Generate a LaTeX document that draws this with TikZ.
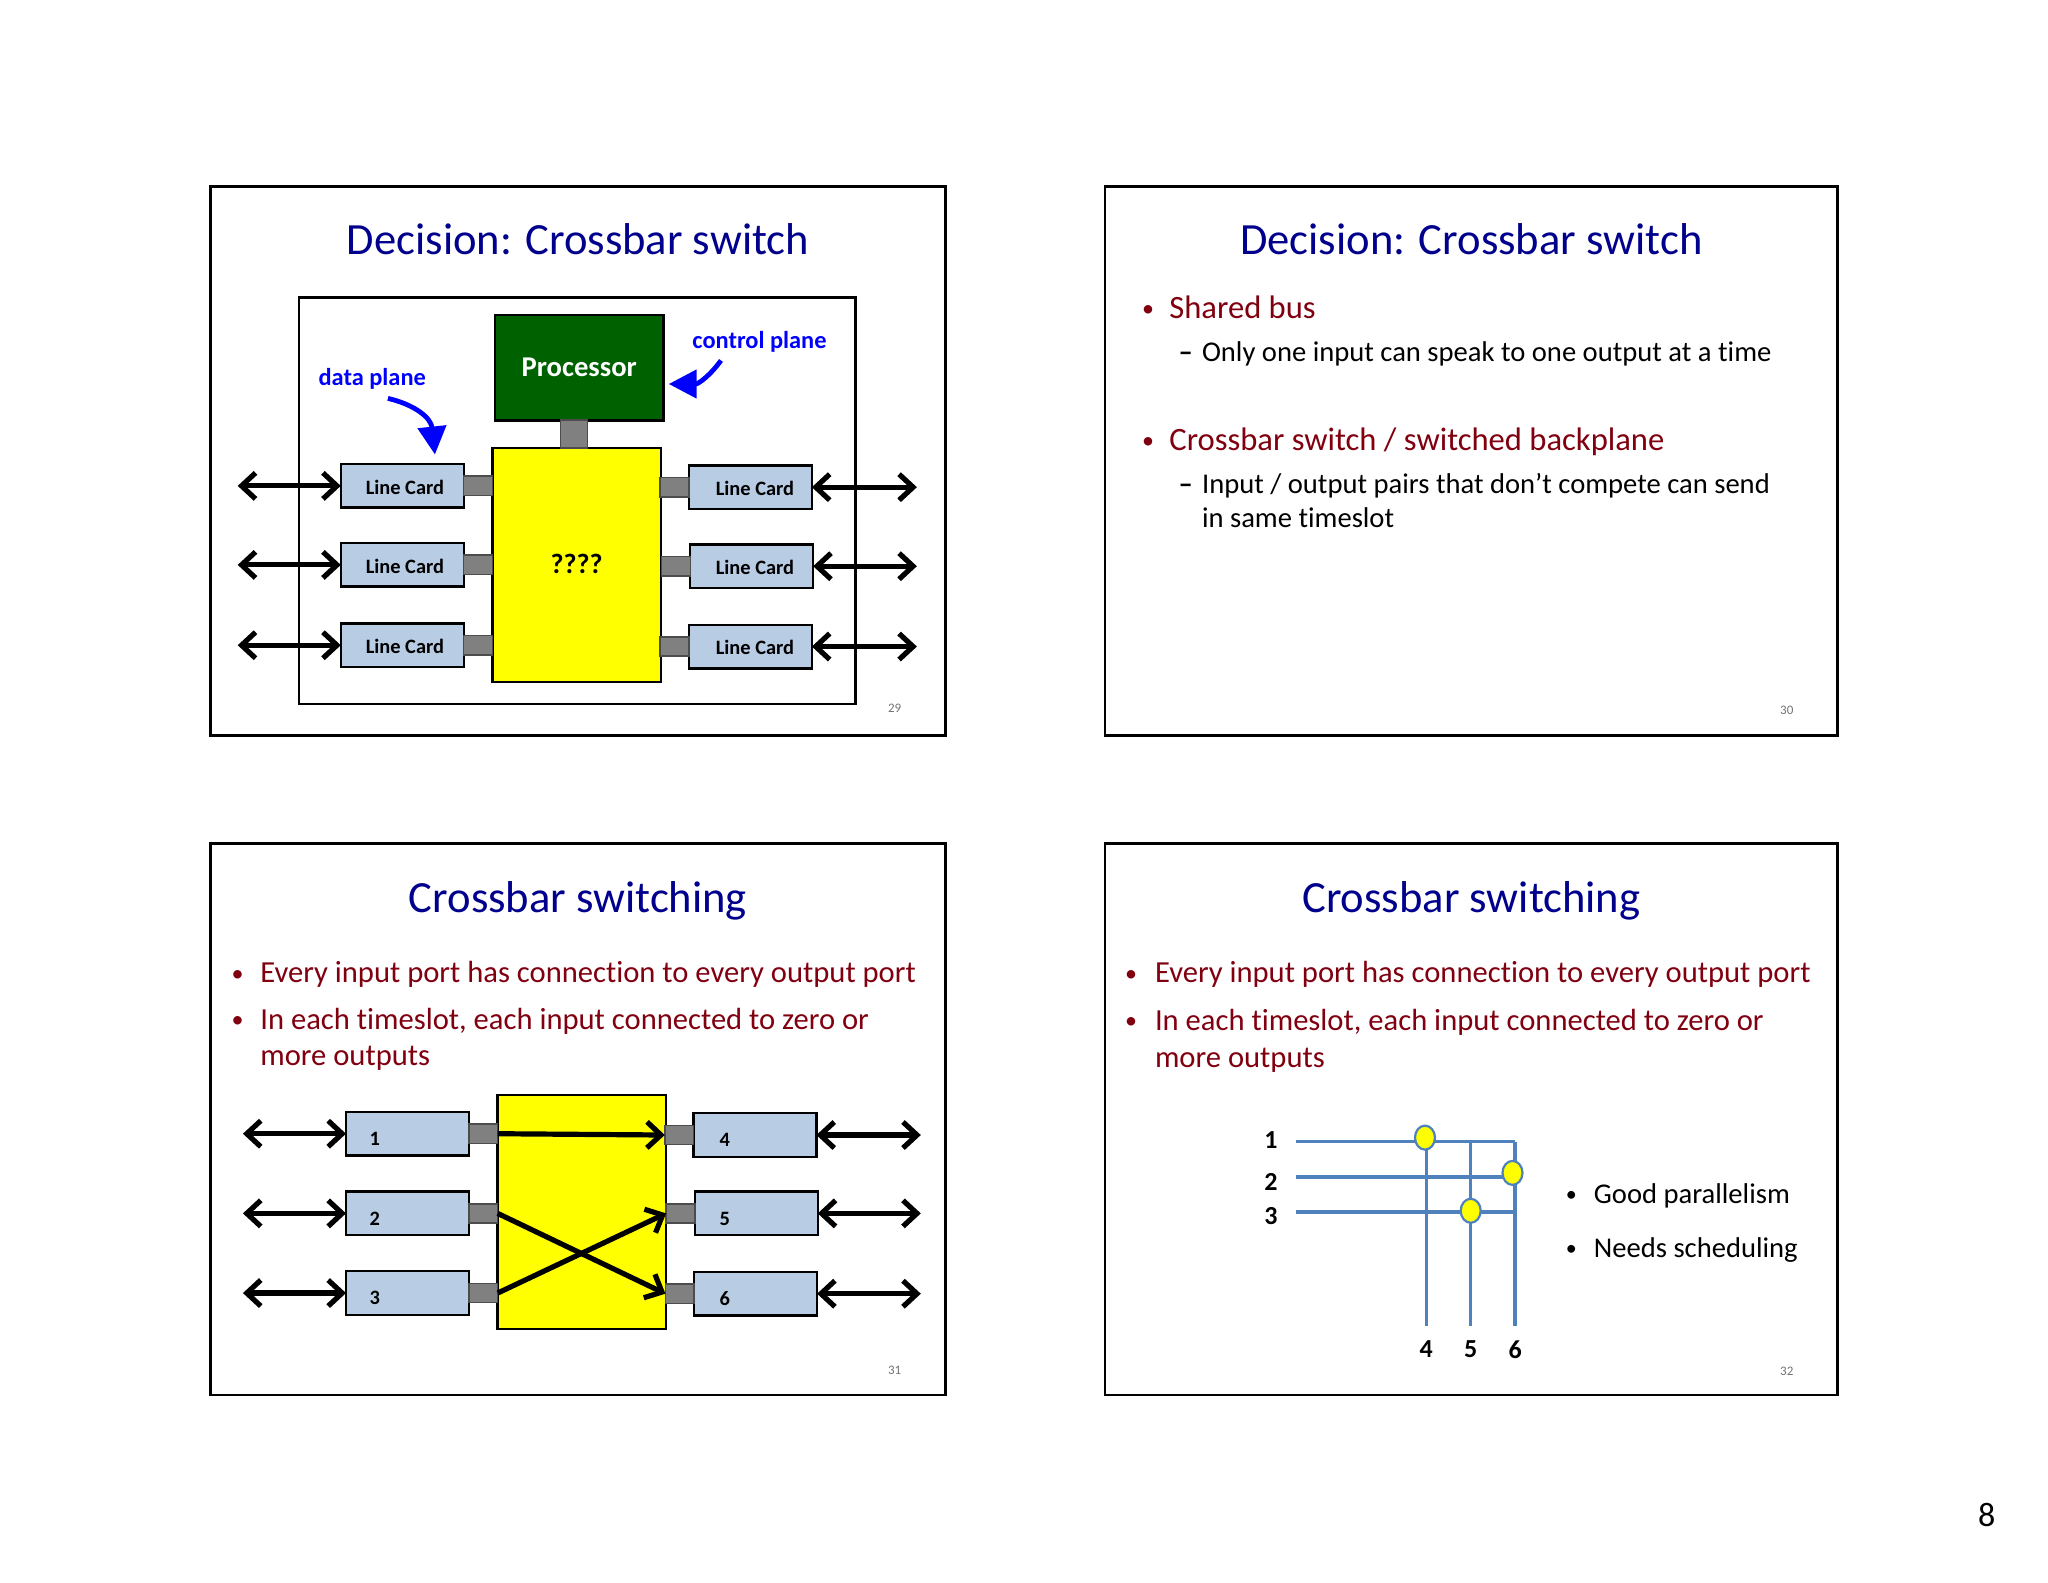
\documentclass[tikz,border=0pt]{standalone}
\usepackage{fontspec}
\setmainfont[Ligatures=NoCommon]{Carlito}
\usetikzlibrary{arrows.meta,shapes.geometric}
\definecolor{titleblue}{RGB}{0,0,140}
\definecolor{bodyred}{RGB}{128,0,16}
\definecolor{cardblue}{RGB}{184,204,228}
\definecolor{wireblue}{RGB}{79,129,189}
\definecolor{procgreen}{RGB}{0,97,0}
\definecolor{fabricyellow}{RGB}{255,255,0}
\tikzset{
  frame/.style={draw=black,line width=1.3pt},
  slidetitle/.style={inner sep=0,anchor=base,text=titleblue,font=\fontsize{22.3}{26}\selectfont},
  bodytext/.style={inner sep=0,anchor=base west,text=bodyred,font=\fontsize{15.3}{18}\selectfont},
  bigbody/.style={bodytext,font=\fontsize{16.3}{19}\selectfont},
  bodydot/.style={inner sep=0,anchor=base,text=bodyred,font=\fontsize{12}{14}\selectfont},
  subtext/.style={inner sep=0,anchor=base west,text=black,font=\fontsize{14.3}{17}\selectfont},
  subdot/.style={inner sep=0,anchor=base,text=black,font=\fontsize{11}{13}\selectfont},
  pagenum/.style={inner sep=0,text=black!55,font=\fontsize{6.5}{8}\selectfont},
  linecard/.style={draw=black,line width=1.2pt,fill=cardblue,minimum width=61.5pt,minimum height=21.8pt,inner sep=0,outer sep=0},
  port/.style={draw=black!70,line width=.8pt,fill=black!50,minimum width=14.4pt,minimum height=9.6pt,inner sep=0,outer sep=0},
  fabric/.style={draw=black,line width=1.2pt,fill=fabricyellow,minimum width=84.2pt,minimum height=117pt,inner sep=0,outer sep=0,font=\bfseries\fontsize{14}{16}\selectfont},
  cardlabel/.style={inner sep=0,font=\bfseries\fontsize{10.2}{12}\selectfont},
  planelabel/.style={inner sep=0,text=blue,font=\bfseries\fontsize{12.2}{14}\selectfont},
  planearrow/.style={draw=blue,line width=2.4pt,-{Triangle[length=14pt,width=14pt]}},
  duplex/.style={line width=2.6pt,{Straight Barb[length=7pt,width=13pt]}-{Straight Barb[length=7pt,width=13pt]}},
  onearrow/.style={line width=2.6pt,-{Straight Barb[length=7pt,width=13pt]}},
  wire/.style={draw=wireblue,line width=1.7pt},
  crosspoint/.style={ellipse,draw=wireblue,line width=1.1pt,fill=fabricyellow,minimum width=10pt,minimum height=12pt,inner sep=0},
  portnum/.style={inner sep=0,font=\bfseries\fontsize{13}{15}\selectfont},
}
\begin{document}
\begin{tikzpicture}[x=0.653pt,y=-0.653pt]
\useasboundingbox (0,0) rectangle (1568,1211.3);

% slide frames
\draw[frame] (161,143) rectangle (724,563);
\draw[frame] (846,143) rectangle (1407,563);
\draw[frame] (161,646) rectangle (724,1068);
\draw[frame] (846,646) rectangle (1407,1068);

% titles
\node[slidetitle] (titlea) at (442.5,195) {Decision: Crossbar switch};
\node[slidetitle] (titleb) at (1126.5,195) {Decision: Crossbar switch};
\node[slidetitle] (titlec) at (442.5,698.5) {Crossbar switching};
\node[slidetitle] (titled) at (1126.5,698.5) {Crossbar switching};

% page numbers
\node[pagenum] (pagea) at (685,542) {29};
\node[pagenum] (pageb) at (1368,544) {30};
\node[pagenum] (pagec) at (685,1049) {31};
\node[pagenum] (paged) at (1368,1050) {32};
\node[inner sep=0,font=\fontsize{17}{20}\selectfont] (sheet) at (1521,1160) {8};

% slide 29
\draw[frame] (229,228) rectangle (655,539);
\node[fabric] (fabrica) at (441.5,432.5) {\raisebox{.6pt}{????}};
\node[draw=black,line width=1.2pt,fill=procgreen,minimum width=84.2pt,minimum height=52.9pt,inner sep=0,outer sep=0,text=white,font=\bfseries\fontsize{14.3}{16}\selectfont] (proc) at (443.5,281.5) {\raisebox{-.5pt}{Processor}};
\node[port,minimum width=13.5pt,minimum height=14pt] (procport) at (439.5,332.5) {};
\foreach \i/\yl/\yr/\xr in {a/372/373/574.5,b/432.5/433.5/575.5,c/494/495/574.5} {
  \node[linecard] (l\i) at (308,\yl) {};
  \node[cardlabel] (ltext\i) at (310,\yl+1) {Line Card};
  \node[port] (lport\i) at (366,\yl) {};
  \coordinate (lend\i) at (182,\yl);
  \draw[duplex] (lend\i) -- (l\i);
  \node[linecard] (r\i) at (\xr,\yr) {};
  \node[cardlabel] (rtext\i) at (578,\yr+1) {Line Card};
  \node[port] (rport\i) at (\xr-58,\yr) {};
  \coordinate (rend\i) at (702,\yr);
  \draw[duplex] (r\i) -- (rend\i);
}
\node[planelabel] (dataplane) at (285,290) {data plane};
\node[planelabel] (ctrlplane) at (581.5,262) {control plane};
\coordinate (datatail) at (297,305);
\coordinate (datahead) at (333,348);
\coordinate (ctrltail) at (552,276);
\coordinate (ctrlhead) at (512,294);
\draw[planearrow] (datatail) .. controls (318,310) and (330,320) .. (datahead);
\draw[planearrow] (ctrltail) .. controls (544,287) and (535,294) .. (ctrlhead);

% slide 30
\node[bodydot] (bulleta) at (879,242.5) {•};
\node[bigbody] (busa) at (895,244) {Shared bus};
\node[subtext] (busb) at (902,277) {\textbf{–}};
\node[subtext] (busc) at (920,277) {Only one input can speak to one output at a time};
\node[bodydot] (bulletb) at (879,343.5) {•};
\node[bigbody] (swa) at (895,345) {Crossbar switch / switched backplane};
\node[subtext] (swb) at (902,378) {\textbf{–}};
\node[subtext] (swc) at (920,378) {Input / output pairs that don’t compete can send};
\node[subtext] (swd) at (920,404) {in same timeslot};

% slide 31
\node[bodydot] (bulletc) at (182,751.5) {•};
\node[bodytext] (texta) at (199,752.5) {Every input port has connection to every output port};
\node[bodydot] (bulletd) at (182,786.5) {•};
\node[bodytext] (textb) at (199,788.5) {In each timeslot, each input connected to zero or};
\node[bodytext] (textc) at (199,816) {more outputs};
\node[fabric] (fabricb) at (445.5,928) {};
\foreach \n/\m/\yl/\yr/\xr in {1/4/868/869/578,2/5/929/929/579,3/6/990/990.5/578.5} {
  \node[linecard] (in\n) at (312,\yl) {};
  \node[cardlabel] (intext\n) at (287,\yl+4) {\n};
  \node[port] (inport\n) at (370,\yl) {};
  \coordinate (inend\n) at (186,\yl);
  \draw[duplex] (inend\n) -- (in\n);
  \node[linecard] (out\m) at (\xr,\yr) {};
  \node[cardlabel] (outtext\m) at (555,\yr+4) {\m};
  \node[port] (outport\m) at (\xr-58,\yr) {};
  \coordinate (outend\m) at (705,\yr);
  \draw[duplex] (out\m) -- (outend\m);
}
\draw[onearrow] (inport1.east) -- (outport4.west);
\draw[onearrow] (inport2.east) -- (outport6.west);
\draw[onearrow] (inport3.east) -- (outport5.west);

% slide 32
\node[bodydot] (bullete) at (866,751.5) {•};
\node[bodytext] (textd) at (884,752.5) {Every input port has connection to every output port};
\node[bodydot] (bulletf) at (866,787.5) {•};
\node[bodytext] (texte) at (884,789) {In each timeslot, each input connected to zero or};
\node[bodytext] (textf) at (884,817) {more outputs};
\coordinate (ha) at (992,874);
\coordinate (hb) at (992,901);
\coordinate (hc) at (992,928);
\coordinate (hae) at (1160,874);
\coordinate (hbe) at (1160,901);
\coordinate (hce) at (1160,928);
\coordinate (va) at (1092,874);
\coordinate (vb) at (1126,874);
\coordinate (vae) at (1092,1015);
\coordinate (vbe) at (1126,1015);
\coordinate (vce) at (1160,1015);
\draw[wire] (ha) -- (hae);
\draw[wire] (hb) -- (hbe);
\draw[wire] (hc) -- (hce);
\draw[wire] (va) -- (vae);
\draw[wire] (vb) -- (vbe);
\draw[wire] (hae) -- (vce);
\node[crosspoint] (xa) at (1091,871) {};
\node[crosspoint] (xb) at (1158,898) {};
\node[crosspoint] (xc) at (1126,927) {};
\node[portnum] (numa) at (973,873) {1};
\node[portnum] (numb) at (973,905) {2};
\node[portnum] (numc) at (973,931) {3};
\node[portnum] (numd) at (1092,1033) {4};
\node[portnum] (nume) at (1126,1033) {5};
\node[portnum] (numf) at (1160,1033) {6};
\node[subdot] (bulletg) at (1203,920) {•};
\node[subtext] (gooda) at (1220,921.5) {Good parallelism};
\node[subdot] (bulleth) at (1203,961) {•};
\node[subtext] (goodb) at (1220,962.5) {Needs scheduling};

\end{tikzpicture}
\end{document}
